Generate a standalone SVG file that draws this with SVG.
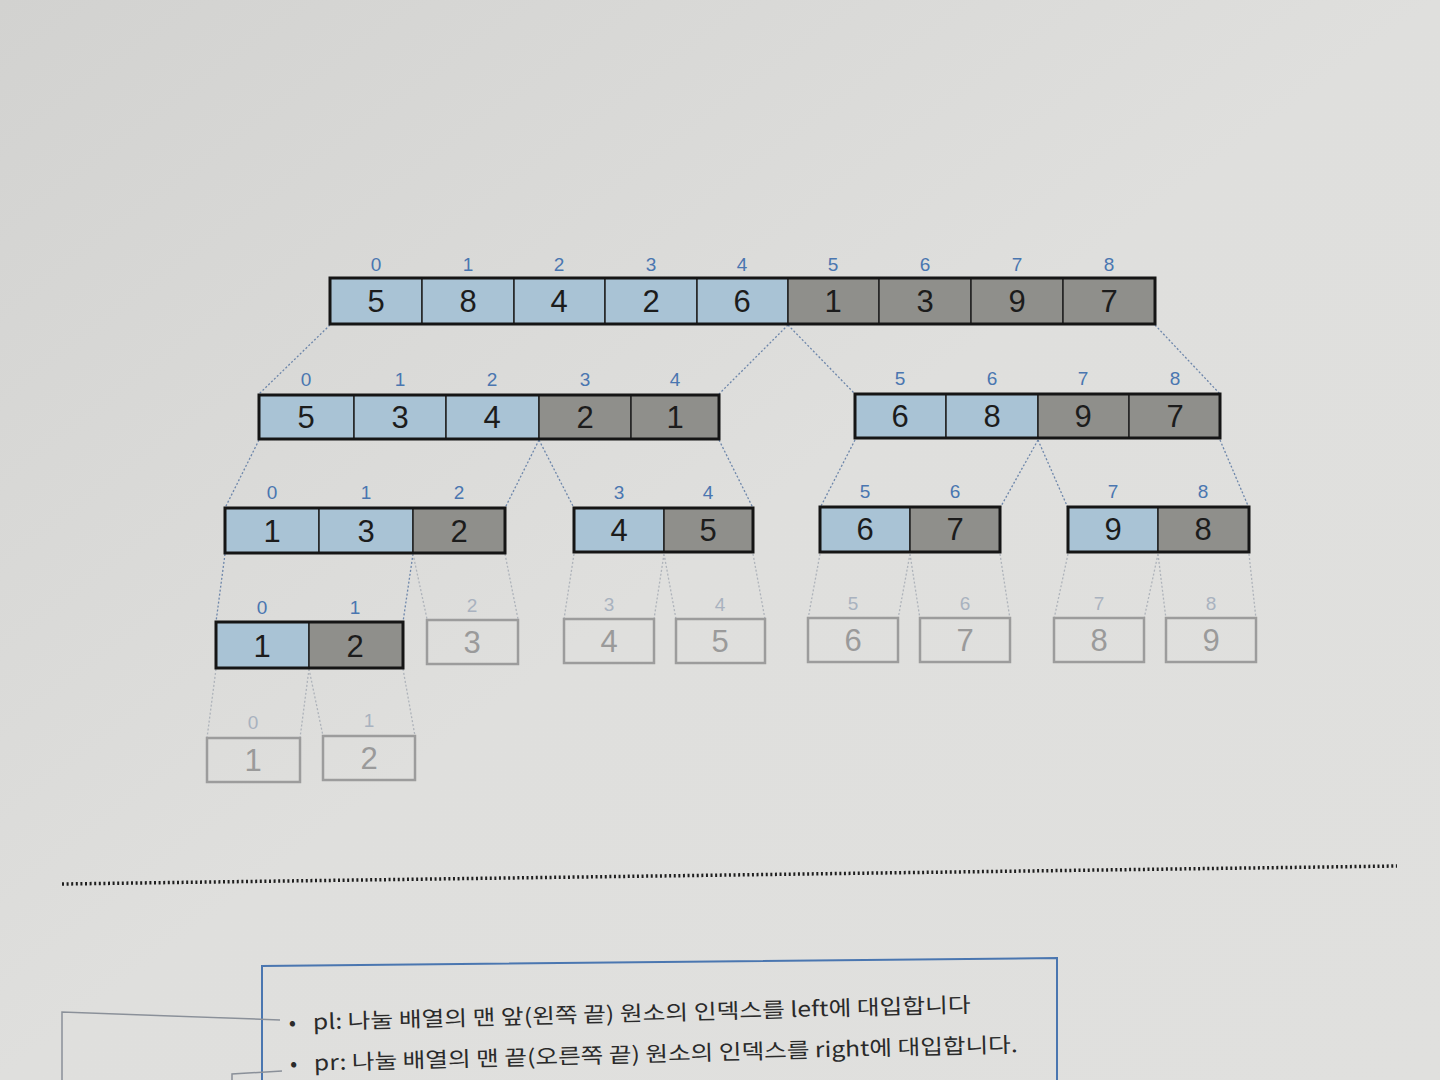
<svg xmlns="http://www.w3.org/2000/svg" width="1440" height="1080" viewBox="0 0 1440 1080">
<defs>
<linearGradient id="paper" x1="0" y1="0" x2="1" y2="1">
<stop offset="0" stop-color="#d2d2d0"/>
<stop offset="0.5" stop-color="#dfdfdd"/>
<stop offset="1" stop-color="#e0e0de"/>
</linearGradient>
<style>
.cb{fill:#a9c3d5;stroke:#222;stroke-width:1.5}
.cg{fill:#8f8f8b;stroke:#222;stroke-width:1.5}
.out{fill:none;stroke:#151515;stroke-width:3}
.num{font-family:"Liberation Sans",Arial,sans-serif;font-size:31px;fill:#1c1c1c;text-anchor:middle}
.idx{font-family:"Liberation Sans",Arial,sans-serif;font-size:19px;fill:#4a76b0;text-anchor:middle}
.fidx{font-family:"Liberation Sans",Arial,sans-serif;font-size:19px;fill:#a9b2bf;text-anchor:middle}
.fbox{fill:none;stroke:#9c9c9c;stroke-width:2.5}
.fnum{font-family:"Liberation Sans",Arial,sans-serif;font-size:31px;fill:#9a9a9a;text-anchor:middle}
.conn{fill:none;stroke:#6d86aa;stroke-width:1.3;stroke-dasharray:2 2}
.connf{fill:none;stroke:#aeb3ba;stroke-width:1.3;stroke-dasharray:2 2}
.txt{font-family:"Noto Sans CJK KR","Noto Sans",sans-serif;font-size:21px;fill:#2a2a2a}
</style>
</defs>
<rect x="0" y="0" width="1440" height="1080" fill="url(#paper)"/>

<g id="connectors">
<path class="conn" d="M330,325 L259,394 M788,325 L719,394 M788,325 L855,394 M1155,325 L1220,394"/>
<path class="conn" d="M259,440 L225,508 M539,440 L505,508 M539,440 L574,508 M719,440 L753,508"/>
<path class="conn" d="M855,440 L820,508 M1038,440 L1000,508 M1038,440 L1068,508 M1220,440 L1249,508"/>
<path class="conn" d="M225,554 L216,622 M413,554 L403,622"/>
<path class="connf" d="M413,554 L427,619 M505,554 L518,619"/>
<path class="connf" d="M574,554 L564,619 M664,554 L654,619 M664,554 L676,619 M753,554 L765,619"/>
<path class="connf" d="M820,554 L808,619 M910,554 L898,619 M910,554 L920,619 M1000,554 L1010,619"/>
<path class="connf" d="M1068,554 L1054,619 M1158,554 L1144,619 M1158,554 L1166,619 M1249,554 L1256,619"/>
<path class="connf" d="M216,669 L207,738 M309,669 L300,738 M309,669 L323,736 M403,669 L415,736"/>
</g>

<g id="level0">
<rect class="cb" x="330" y="278" width="92" height="46"/>
<rect class="cb" x="422" y="278" width="92" height="46"/>
<rect class="cb" x="514" y="278" width="91" height="46"/>
<rect class="cb" x="605" y="278" width="92" height="46"/>
<rect class="cb" x="697" y="278" width="91" height="46"/>
<rect class="cg" x="788" y="278" width="91" height="46"/>
<rect class="cg" x="879" y="278" width="92" height="46"/>
<rect class="cg" x="971" y="278" width="92" height="46"/>
<rect class="cg" x="1063" y="278" width="92" height="46"/>
<rect class="out" x="330" y="278" width="825" height="46"/>
<text class="idx" x="376" y="271">0</text><text class="idx" x="468" y="271">1</text><text class="idx" x="559" y="271">2</text><text class="idx" x="651" y="271">3</text><text class="idx" x="742" y="271">4</text><text class="idx" x="833" y="271">5</text><text class="idx" x="925" y="271">6</text><text class="idx" x="1017" y="271">7</text><text class="idx" x="1109" y="271">8</text>
<text class="num" x="376" y="312">5</text><text class="num" x="468" y="312">8</text><text class="num" x="559" y="312">4</text><text class="num" x="651" y="312">2</text><text class="num" x="742" y="312">6</text><text class="num" x="833" y="312">1</text><text class="num" x="925" y="312">3</text><text class="num" x="1017" y="312">9</text><text class="num" x="1109" y="312">7</text>
</g>

<g id="level1-left">
<rect class="cb" x="259" y="395" width="95" height="44"/>
<rect class="cb" x="354" y="395" width="92" height="44"/>
<rect class="cb" x="446" y="395" width="93" height="44"/>
<rect class="cg" x="539" y="395" width="92" height="44"/>
<rect class="cg" x="631" y="395" width="88" height="44"/>
<rect class="out" x="259" y="395" width="460" height="44"/>
<text class="idx" x="306" y="386">0</text><text class="idx" x="400" y="386">1</text><text class="idx" x="492" y="386">2</text><text class="idx" x="585" y="386">3</text><text class="idx" x="675" y="386">4</text>
<text class="num" x="306" y="428">5</text><text class="num" x="400" y="428">3</text><text class="num" x="492" y="428">4</text><text class="num" x="585" y="428">2</text><text class="num" x="675" y="428">1</text>
</g>

<g id="level1-right">
<rect class="cb" x="855" y="394" width="91" height="44"/>
<rect class="cb" x="946" y="394" width="92" height="44"/>
<rect class="cg" x="1038" y="394" width="91" height="44"/>
<rect class="cg" x="1129" y="394" width="91" height="44"/>
<rect class="out" x="855" y="394" width="365" height="44"/>
<text class="idx" x="900" y="385">5</text><text class="idx" x="992" y="385">6</text><text class="idx" x="1083" y="385">7</text><text class="idx" x="1175" y="385">8</text>
<text class="num" x="900" y="427">6</text><text class="num" x="992" y="427">8</text><text class="num" x="1083" y="427">9</text><text class="num" x="1175" y="427">7</text>
</g>

<g id="level2-a">
<rect class="cb" x="225" y="508" width="94" height="45"/>
<rect class="cb" x="319" y="508" width="94" height="45"/>
<rect class="cg" x="413" y="508" width="92" height="45"/>
<rect class="out" x="225" y="508" width="280" height="45"/>
<text class="idx" x="272" y="499">0</text><text class="idx" x="366" y="499">1</text><text class="idx" x="459" y="499">2</text>
<text class="num" x="272" y="542">1</text><text class="num" x="366" y="542">3</text><text class="num" x="459" y="542">2</text>
</g>

<g id="level2-b">
<rect class="cb" x="574" y="508" width="90" height="44"/>
<rect class="cg" x="664" y="508" width="89" height="44"/>
<rect class="out" x="574" y="508" width="179" height="44"/>
<text class="idx" x="619" y="499">3</text><text class="idx" x="708" y="499">4</text>
<text class="num" x="619" y="541">4</text><text class="num" x="708" y="541">5</text>
</g>

<g id="level2-c">
<rect class="cb" x="820" y="507" width="90" height="45"/>
<rect class="cg" x="910" y="507" width="90" height="45"/>
<rect class="out" x="820" y="507" width="180" height="45"/>
<text class="idx" x="865" y="498">5</text><text class="idx" x="955" y="498">6</text>
<text class="num" x="865" y="540">6</text><text class="num" x="955" y="540">7</text>
</g>

<g id="level2-d">
<rect class="cb" x="1068" y="507" width="90" height="45"/>
<rect class="cg" x="1158" y="507" width="91" height="45"/>
<rect class="out" x="1068" y="507" width="181" height="45"/>
<text class="idx" x="1113" y="498">7</text><text class="idx" x="1203" y="498">8</text>
<text class="num" x="1113" y="540">9</text><text class="num" x="1203" y="540">8</text>
</g>

<g id="level3-a">
<rect class="cb" x="216" y="622" width="93" height="46"/>
<rect class="cg" x="309" y="622" width="94" height="46"/>
<rect class="out" x="216" y="622" width="187" height="46"/>
<text class="idx" x="262" y="614">0</text><text class="idx" x="355" y="614">1</text>
<text class="num" x="262" y="657">1</text><text class="num" x="355" y="657">2</text>
</g>

<g id="level3-3"><rect class="fbox" x="427" y="620" width="91" height="44"/><text class="fidx" x="472" y="612">2</text><text class="fnum" x="472" y="653">3</text></g>
<g id="level3-4"><rect class="fbox" x="564" y="619" width="90" height="44"/><text class="fidx" x="609" y="611">3</text><text class="fnum" x="609" y="652">4</text></g>
<g id="level3-5"><rect class="fbox" x="676" y="619" width="89" height="44"/><text class="fidx" x="720" y="611">4</text><text class="fnum" x="720" y="652">5</text></g>
<g id="level3-6"><rect class="fbox" x="808" y="618" width="90" height="44"/><text class="fidx" x="853" y="610">5</text><text class="fnum" x="853" y="651">6</text></g>
<g id="level3-7"><rect class="fbox" x="920" y="618" width="90" height="44"/><text class="fidx" x="965" y="610">6</text><text class="fnum" x="965" y="651">7</text></g>
<g id="level3-8"><rect class="fbox" x="1054" y="618" width="90" height="44"/><text class="fidx" x="1099" y="610">7</text><text class="fnum" x="1099" y="651">8</text></g>
<g id="level3-9"><rect class="fbox" x="1166" y="618" width="90" height="44"/><text class="fidx" x="1211" y="610">8</text><text class="fnum" x="1211" y="651">9</text></g>

<g id="level4-1"><rect class="fbox" x="207" y="738" width="93" height="44"/><text class="fidx" x="253" y="729">0</text><text class="fnum" x="253" y="771">1</text></g>
<g id="level4-2"><rect class="fbox" x="323" y="736" width="92" height="44"/><text class="fidx" x="369" y="727">1</text><text class="fnum" x="369" y="769">2</text></g>

<g id="divider">
<line x1="62" y1="884" x2="1397" y2="866" stroke="#1e1e1e" stroke-width="3.5" stroke-dasharray="2 2.6"/>
</g>

<g id="note">
<path d="M262,1080 L262,966 L1057,958 L1057,1080" fill="none" stroke="#4a76b0" stroke-width="2"/>
<path d="M62,1080 L62,1012 L280,1020" fill="none" stroke="#8a9099" stroke-width="1.5"/>
<path d="M232,1080 L232,1074 L282,1071" fill="none" stroke="#8a9099" stroke-width="1.5"/>
<g transform="rotate(-1.5 290 1028)">
<text class="txt" x="289" y="1030">•</text>
<text class="txt" x="313" y="1030" textLength="658" lengthAdjust="spacingAndGlyphs">pl: 나눌 배열의 맨 앞(왼쪽 끝) 원소의 인덱스를 left에 대입합니다</text>
<text class="txt" x="289" y="1071">•</text>
<text class="txt" x="313" y="1071" textLength="704" lengthAdjust="spacingAndGlyphs">pr: 나눌 배열의 맨 끝(오른쪽 끝) 원소의 인덱스를 right에 대입합니다.</text>
</g>
</g>
</svg>
